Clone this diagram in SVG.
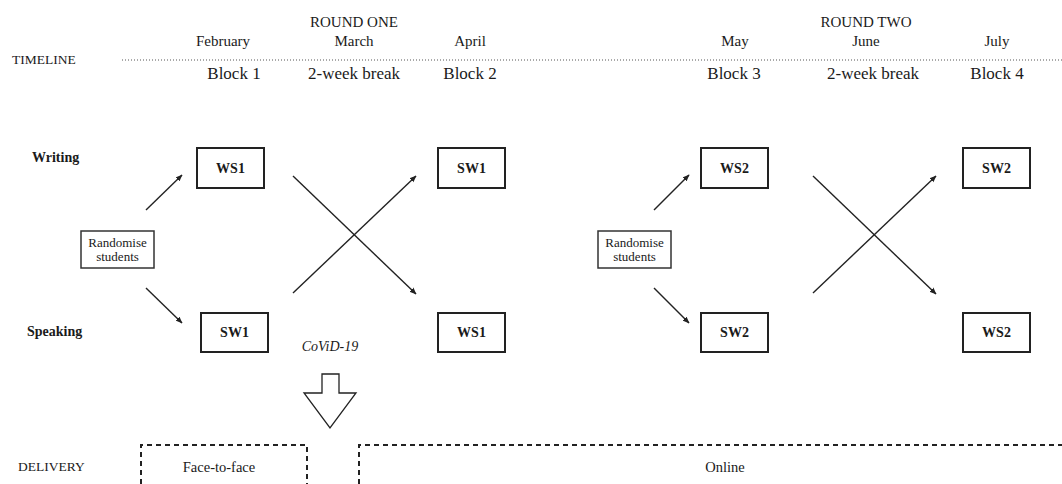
<svg xmlns="http://www.w3.org/2000/svg" width="1062" height="484" viewBox="0 0 1062 484">
<style>
text{font-family:"Liberation Serif","Times New Roman",serif;fill:#1a1a1a}
.m{font-size:15px;text-anchor:middle}
.b{font-size:17px;text-anchor:middle}
.lab{font-size:13.5px}
.box{fill:#fff;stroke:#222;stroke-width:2}
.bt{font-size:14px;font-weight:bold;text-anchor:middle}
.rs{fill:#fff;stroke:#333;stroke-width:1.5}
.rt{font-size:13px;text-anchor:middle}
.c{stroke:#222;stroke-width:1.4;fill:none;marker-end:url(#ah)}
.d{fill:none;stroke:#222;stroke-width:2;stroke-dasharray:5 4}
.dl{font-size:14.5px;text-anchor:middle}
</style>
<defs>
<marker id="ah" viewBox="0 0 10 10" refX="9" refY="5" markerWidth="5" markerHeight="5" orient="auto" markerUnits="strokeWidth">
<path d="M0,1 L10,5 L0,9 z" fill="#222"/>
</marker>
</defs>
<rect width="1062" height="484" fill="#fff"/>
<g id="timeline">
<text class="lab" x="12" y="64">TIMELINE</text>
<line x1="122" y1="60" x2="1062" y2="60" stroke="#555" stroke-width="1" stroke-dasharray="1 2"/>
<text class="m" x="354" y="27">ROUND ONE</text>
<text class="m" x="866" y="27">ROUND TWO</text>
<text class="m" x="223" y="46">February</text>
<text class="m" x="354" y="46">March</text>
<text class="m" x="470" y="46">April</text>
<text class="m" x="735" y="46">May</text>
<text class="m" x="866" y="46">June</text>
<text class="m" x="997" y="46">July</text>
<text class="b" x="234" y="79">Block 1</text>
<text class="b" x="354" y="79">2-week break</text>
<text class="b" x="470" y="79">Block 2</text>
<text class="b" x="734" y="79">Block 3</text>
<text class="b" x="873" y="79">2-week break</text>
<text class="b" x="997" y="79">Block 4</text>
</g>
<g id="row-labels">
<text x="32" y="162" font-size="14" font-weight="bold">Writing</text>
<text x="27" y="336" font-size="14" font-weight="bold">Speaking</text>
<text class="lab" x="18" y="471">DELIVERY</text>
</g>
<g id="rand1"><rect class="rs" x="81" y="231" width="73" height="37"/><text class="rt" x="117.5" y="247">Randomise</text><text class="rt" x="117.5" y="261">students</text></g>
<g id="ws1a"><rect class="box" x="197" y="148" width="67" height="40"/><text class="bt" x="230.5" y="173">WS1</text></g>
<g id="sw1a"><rect class="box" x="201" y="313" width="67" height="39"/><text class="bt" x="234.5" y="337">SW1</text></g>
<g id="sw1b"><rect class="box" x="438" y="148" width="67" height="40"/><text class="bt" x="471.5" y="173">SW1</text></g>
<g id="ws1b"><rect class="box" x="438" y="313" width="67" height="39"/><text class="bt" x="471.5" y="337">WS1</text></g>
<g id="rand2"><rect class="rs" x="598" y="231" width="73" height="37"/><text class="rt" x="634.5" y="247">Randomise</text><text class="rt" x="634.5" y="261">students</text></g>
<g id="ws2a"><rect class="box" x="701" y="148" width="67" height="40"/><text class="bt" x="734.5" y="173">WS2</text></g>
<g id="sw2a"><rect class="box" x="701" y="313" width="67" height="39"/><text class="bt" x="734.5" y="337">SW2</text></g>
<g id="sw2b"><rect class="box" x="963" y="148" width="67" height="40"/><text class="bt" x="996.5" y="173">SW2</text></g>
<g id="ws2b"><rect class="box" x="963" y="313" width="67" height="39"/><text class="bt" x="996.5" y="337">WS2</text></g>
<g id="connectors">
<line class="c" x1="146" y1="210" x2="182" y2="175"/>
<line class="c" x1="146" y1="288" x2="182" y2="323"/>
<line class="c" x1="293" y1="176" x2="416" y2="294"/>
<line class="c" x1="293" y1="293" x2="416" y2="176"/>
<line class="c" x1="654" y1="210" x2="689" y2="175"/>
<line class="c" x1="654" y1="288" x2="689" y2="323"/>
<line class="c" x1="813" y1="176" x2="936" y2="294"/>
<line class="c" x1="813" y1="293" x2="936" y2="176"/>
</g>
<g id="covid">
<text x="330" y="351" font-size="14" font-style="italic" text-anchor="middle">CoViD-19</text>
<path d="M322,374 H339 V393 H356 L330,428 L304,393 H322 Z" fill="#fff" stroke="#222" stroke-width="1.3"/>
</g>
<g id="f2f">
<path class="d" d="M141,484 V445 H307 V484"/>
<text class="dl" x="219" y="472">Face-to-face</text>
</g>
<g id="online">
<path class="d" d="M359,484 V445 H1062"/>
<text class="dl" x="725" y="472">Online</text>
</g>
</svg>
